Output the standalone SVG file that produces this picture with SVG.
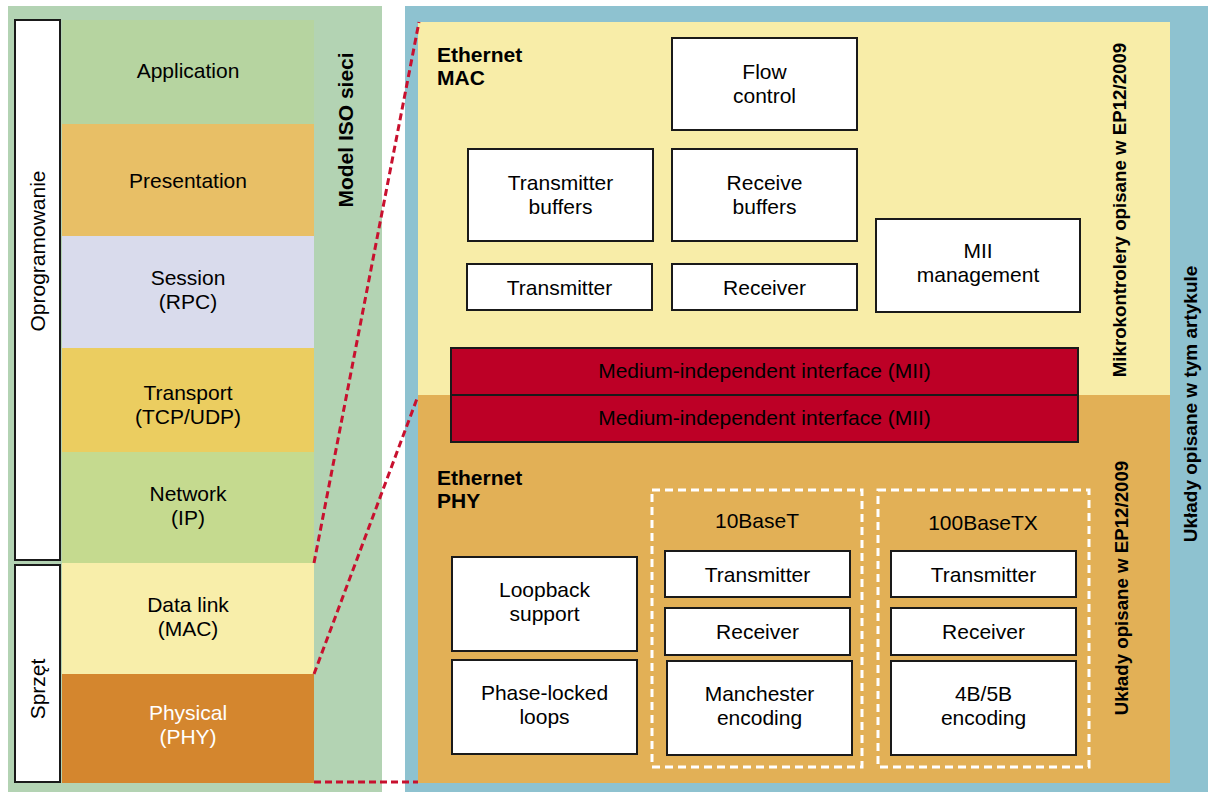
<svg xmlns="http://www.w3.org/2000/svg" width="1208" height="792" viewBox="0 0 1208 792">
  <style>
    text { font-family: "Liberation Sans", Arial, sans-serif; font-size: 21px; fill: #000; }
    .c { text-anchor: middle; }
    .b { font-weight: bold; }
    .box { fill: #fff; stroke: #1a1a1a; stroke-width: 2; }
    .mii { fill: #bd0026; stroke: #1a1a1a; stroke-width: 2; }
    .group { fill: none; stroke: #fff; stroke-width: 3; stroke-dasharray: 8 5; }
    .link { fill: none; stroke: #c8102e; stroke-width: 3; stroke-dasharray: 7 4; }
    .tag { fill: #fff; stroke: #1a1a1a; stroke-width: 2; }
  </style>

  <rect width="1208" height="792" fill="#fff"/>

  <!-- ISO model column -->
  <g id="iso-model">
    <rect x="8" y="6" width="374" height="786" fill="#b3d3b3"/>
    <text class="b" transform="translate(353,130) rotate(-90)" text-anchor="middle">Model ISO sieci</text>
  </g>

  <g id="tag-software">
    <rect class="tag" x="15" y="20" width="45" height="540"/>
    <text transform="translate(45,251) rotate(-90)" text-anchor="middle">Oprogramowanie</text>
  </g>
  <g id="tag-hardware">
    <rect class="tag" x="15" y="565" width="45" height="217"/>
    <text transform="translate(45,689) rotate(-90)" text-anchor="middle">Sprzęt</text>
  </g>

  <g id="layer-application">
    <rect x="62" y="20" width="252" height="104" fill="#b6d4a0"/>
    <text class="c" x="188" y="78">Application</text>
  </g>
  <g id="layer-presentation">
    <rect x="62" y="124" width="252" height="112" fill="#e8bf66"/>
    <text class="c" x="188" y="188">Presentation</text>
  </g>
  <g id="layer-session">
    <rect x="62" y="236" width="252" height="112" fill="#d9dbec"/>
    <text class="c" x="188" y="285">Session</text>
    <text class="c" x="188" y="309">(RPC)</text>
  </g>
  <g id="layer-transport">
    <rect x="62" y="348" width="252" height="104" fill="#ebcd60"/>
    <text class="c" x="188" y="400">Transport</text>
    <text class="c" x="188" y="424">(TCP/UDP)</text>
  </g>
  <g id="layer-network">
    <rect x="62" y="452" width="252" height="111" fill="#c5da8f"/>
    <text class="c" x="188" y="501">Network</text>
    <text class="c" x="188" y="525">(IP)</text>
  </g>
  <g id="layer-datalink">
    <rect x="62" y="563" width="252" height="111" fill="#f8eeaa"/>
    <text class="c" x="188" y="612">Data link</text>
    <text class="c" x="188" y="636">(MAC)</text>
  </g>
  <g id="layer-physical">
    <rect x="62" y="674" width="252" height="109" fill="#d4862e"/>
    <text class="c" x="188" y="720" fill="#fff" style="fill:#fff">Physical</text>
    <text class="c" x="188" y="744" style="fill:#fff">(PHY)</text>
  </g>

  <!-- Ethernet detail panel -->
  <g id="article-scope">
    <rect x="405" y="6" width="803" height="786" fill="#8ec2d0"/>
    <text class="b" transform="translate(1197,404) rotate(-90)" text-anchor="middle" style="font-size:19px">Układy opisane w tym artykule</text>
  </g>

  <g id="ethernet-mac">
    <rect x="418" y="22" width="752" height="373" fill="#f8eda8"/>
    <text class="b" x="437" y="62">Ethernet</text>
    <text class="b" x="437" y="85">MAC</text>
    <text class="b" transform="translate(1126,210) rotate(-90)" text-anchor="middle" style="font-size:18.7px">Mikrokontrolery opisane w EP12/2009</text>
  </g>

  <g id="ethernet-phy">
    <rect x="418" y="395" width="752" height="388" fill="#e2b056"/>
    <text class="b" x="437" y="485">Ethernet</text>
    <text class="b" x="437" y="508">PHY</text>
    <text class="b" transform="translate(1128,588) rotate(-90)" text-anchor="middle" style="font-size:18.7px">Układy opisane w EP12/2009</text>
  </g>

  <g id="flow-control">
    <rect class="box" x="672" y="38" width="185" height="92"/>
    <text class="c" x="764.5" y="79">Flow</text>
    <text class="c" x="764.5" y="103">control</text>
  </g>
  <g id="transmitter-buffers">
    <rect class="box" x="468" y="149" width="185" height="92"/>
    <text class="c" x="560.5" y="190">Transmitter</text>
    <text class="c" x="560.5" y="214">buffers</text>
  </g>
  <g id="receive-buffers">
    <rect class="box" x="672" y="149" width="185" height="92"/>
    <text class="c" x="764.5" y="190">Receive</text>
    <text class="c" x="764.5" y="214">buffers</text>
  </g>
  <g id="mac-transmitter">
    <rect class="box" x="467" y="264" width="185" height="46"/>
    <text class="c" x="559.5" y="295">Transmitter</text>
  </g>
  <g id="mac-receiver">
    <rect class="box" x="672" y="264" width="185" height="46"/>
    <text class="c" x="764.5" y="295">Receiver</text>
  </g>
  <g id="mii-management">
    <rect class="box" x="876" y="219" width="204" height="93"/>
    <text class="c" x="978" y="258">MII</text>
    <text class="c" x="978" y="282">management</text>
  </g>

  <g id="mii-mac-side">
    <rect class="mii" x="451" y="348" width="627" height="47"/>
    <text class="c" x="764.5" y="378">Medium-independent interface (MII)</text>
  </g>
  <g id="mii-phy-side">
    <rect class="mii" x="451" y="395" width="627" height="47"/>
    <text class="c" x="764.5" y="425">Medium-independent interface (MII)</text>
  </g>

  <g id="loopback-support">
    <rect class="box" x="452" y="557" width="185" height="94"/>
    <text class="c" x="544.5" y="597">Loopback</text>
    <text class="c" x="544.5" y="621">support</text>
  </g>
  <g id="phase-locked-loops">
    <rect class="box" x="452" y="660" width="185" height="94"/>
    <text class="c" x="544.5" y="700">Phase-locked</text>
    <text class="c" x="544.5" y="724">loops</text>
  </g>

  <g id="group-10baset">
    <rect class="group" x="652" y="490" width="210" height="277"/>
    <text class="c" x="757" y="528">10BaseT</text>
  </g>
  <g id="tx-10baset">
    <rect class="box" x="665" y="551" width="185" height="46"/>
    <text class="c" x="757.5" y="582">Transmitter</text>
  </g>
  <g id="rx-10baset">
    <rect class="box" x="665" y="608" width="185" height="47"/>
    <text class="c" x="757.5" y="639">Receiver</text>
  </g>
  <g id="manchester-encoding">
    <rect class="box" x="667" y="661" width="185" height="94"/>
    <text class="c" x="759.5" y="701">Manchester</text>
    <text class="c" x="759.5" y="725">encoding</text>
  </g>

  <g id="group-100basetx">
    <rect class="group" x="878" y="490" width="211" height="277"/>
    <text class="c" x="983" y="530">100BaseTX</text>
  </g>
  <g id="tx-100basetx">
    <rect class="box" x="891" y="551" width="185" height="46"/>
    <text class="c" x="983.5" y="582">Transmitter</text>
  </g>
  <g id="rx-100basetx">
    <rect class="box" x="891" y="608" width="185" height="47"/>
    <text class="c" x="983.5" y="639">Receiver</text>
  </g>
  <g id="encoding-4b5b">
    <rect class="box" x="891" y="661" width="185" height="94"/>
    <text class="c" x="983.5" y="701">4B/5B</text>
    <text class="c" x="983.5" y="725">encoding</text>
  </g>

  <!-- zoom-out guides from the data link / physical layers to the detail panel -->
  <g id="connectors">
    <line class="link" x1="314" y1="563" x2="419" y2="22"/>
    <line class="link" x1="314" y1="674" x2="418" y2="396"/>
    <line class="link" x1="314" y1="782" x2="418" y2="782"/>
  </g>
</svg>
